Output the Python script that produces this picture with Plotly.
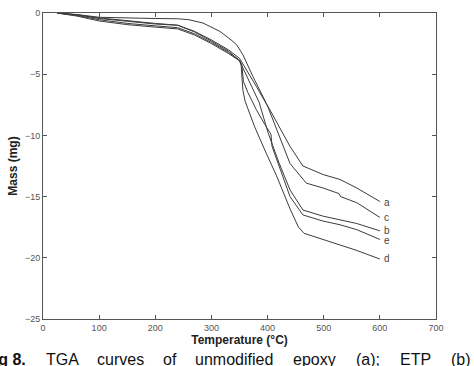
import plotly.graph_objects as go

# Temperature (°C) and mass change (mg) for each sample
T_a = [25, 60, 100, 150, 200, 240, 260, 285, 315, 335, 345, 356, 374, 398, 416, 428, 440, 463, 499, 529, 559, 600]
M_a = [0, -0.12, -0.35, -0.42, -0.45, -0.47, -0.55, -0.82, -1.5, -2.2, -2.6, -3.4, -5.2, -7.4, -8.9, -10.0, -10.9, -12.5, -13.2, -13.6, -14.3, -15.4]

T_b = [25, 60, 100, 150, 200, 240, 270, 300, 330, 350, 365, 385, 401, 420, 440, 463, 499, 529, 559, 600]
M_b = [0, -0.15, -0.4, -0.65, -0.85, -1.0, -1.55, -2.3, -3.1, -3.9, -5.3, -7.3, -9.8, -12.2, -14.45, -16.1, -16.6, -16.9, -17.2, -17.8]

T_c = [25, 60, 100, 150, 200, 240, 270, 300, 330, 350, 365, 380, 400, 419, 440, 469, 499, 527, 530, 559, 600]
M_c = [0, -0.15, -0.45, -0.7, -0.9, -1.0, -1.5, -2.2, -3.0, -3.7, -4.8, -6.0, -7.6, -9.8, -12.3, -13.9, -14.3, -14.75, -15.0, -15.5, -16.7]

T_d = [25, 60, 100, 150, 200, 240, 270, 300, 330, 350, 353, 356, 360, 377, 398, 416, 440, 455, 465, 499, 529, 559, 600]
M_d = [0, -0.2, -0.55, -0.85, -1.05, -1.2, -1.7, -2.4, -3.2, -3.85, -4.3, -6.3, -7.2, -9.3, -11.5, -13.3, -16.0, -17.5, -18.0, -18.5, -18.9, -19.4, -20.1]

T_e = [25, 60, 100, 150, 200, 240, 270, 300, 330, 350, 354, 357, 365, 380, 395, 406, 408, 420, 440, 463, 499, 529, 559, 600]
M_e = [0, -0.25, -0.65, -0.95, -1.15, -1.3, -1.8, -2.5, -3.3, -3.9, -4.2, -5.6, -6.5, -7.9, -9.1, -9.9, -10.9, -12.5, -15.0, -16.5, -17.0, -17.3, -17.7, -18.5]

labels = ["a", "b", "c", "d", "e"]
label_y = [-15.4, -17.7, -16.7, -20.0, -18.55]
label_x = 612

x_ticks = [0, 100, 200, 300, 400, 500, 600, 700]
y_ticks = [0, -5, -10, -15, -20, -25]

caption_words = ["<b>Fig 8.</b>", "TGA", "curves", "of", "unmodified", "epoxy", "(a);", "ETP", "(b)"]
caption_px = [-17, 45, 96, 162, 194, 292, 355, 399, 450]

W, H = 474, 366
L, R, Tm, B = 43, 38, 13, 47
pw = W - L - R
ph = H - Tm - B

fig = go.Figure()
for T, M in [(T_a, M_a), (T_b, M_b), (T_c, M_c), (T_d, M_d), (T_e, M_e)]:
    fig.add_trace(go.Scatter(x=T, y=M, mode="lines",
                             line=dict(color="#3c3c3c", width=1),
                             showlegend=False, hoverinfo="skip"))

for lab, ly in zip(labels, label_y):
    fig.add_annotation(x=label_x, y=ly, text=lab, showarrow=False,
                       xanchor="center", yanchor="middle", height=10,
                       font=dict(family="Liberation Sans, Arial", size=10, color="#444"))

for w, px in zip(caption_words, caption_px):
    fig.add_annotation(xref="paper", yref="paper",
                       x=(px - L) / pw, y=(H - B - 359) / ph,
                       text=w, showarrow=False, xanchor="left", yanchor="middle",
                       xshift=-1,
                       font=dict(family="Liberation Sans, Arial", size=16, color="#111"))

axis_common = dict(showline=True, linecolor="#555", linewidth=1, mirror="allticks",
                   ticks="inside", ticklen=4, tickcolor="#555", showgrid=False,
                   zeroline=False,
                   tickfont=dict(family="Liberation Sans, Arial", size=9, color="#555"))

fig.update_layout(
    width=W, height=H,
    margin=dict(l=L, r=R, t=Tm, b=B, autoexpand=False),
    paper_bgcolor="white", plot_bgcolor="white",
    xaxis=dict(range=[0, 700], tickvals=x_ticks,
               title=dict(text="<b>Temperature (°C)</b>", standoff=2,
                          font=dict(family="Liberation Sans, Arial", size=12, color="#222")),
               **axis_common),
    yaxis=dict(range=[-25, 0], tickvals=y_ticks,
               title=dict(text="<b>Mass (mg)</b>", standoff=4,
                          font=dict(family="Liberation Sans, Arial", size=12, color="#222")),
               **axis_common),
)

fig.write_html("out.html")
